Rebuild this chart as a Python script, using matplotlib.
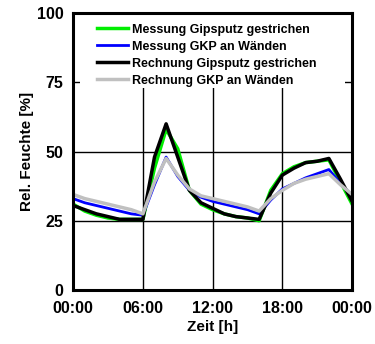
import matplotlib
matplotlib.use("Agg")
import matplotlib.pyplot as plt
from matplotlib.patches import Rectangle

plt.rcParams['font.family'] = ['Liberation Sans', 'DejaVu Sans']
plt.rcParams['font.weight'] = 'bold'

hours = list(range(0, 25))
# Messung Gipsputz gestrichen
mess_gips = [31, 28.5, 27, 26, 25.5, 25.5, 25.5, 44, 58, 51, 36, 31, 29, 27.5, 26.5, 26, 25,
             36, 42, 44.5, 46, 46.5, 47, 39, 31]
# Messung GKP an Waenden
mess_gkp = [33, 31.5, 30.5, 29.5, 28.5, 27.5, 27, 38, 48, 41, 36, 33.5, 32, 31, 30, 29, 27.5,
            32.5, 36.5, 38.5, 40.5, 42, 43.5, 38.5, 34]
# Rechnung Gipsputz gestrichen
rech_gips = [30.5, 29, 27.5, 26.5, 25.5, 25.5, 25.5, 48, 60, 48, 36, 31.5, 29.5, 27.5, 26.5, 26, 25.5,
             35, 41.5, 44, 46, 46.5, 47.5, 40, 32]
# Rechnung GKP an Waenden
rech_gkp = [34.5, 33, 32, 31, 30, 29, 27.5, 39, 47.5, 41.5, 36.5, 34, 33, 32, 31, 30, 28.5,
            33, 36, 38.5, 40, 41, 42, 38, 34.5]

labels = ["Messung Gipsputz gestrichen", "Messung GKP an Wänden",
          "Rechnung Gipsputz gestrichen", "Rechnung GKP an Wänden"]
xticks = [0, 6, 12, 18, 24]
xticklabels = ["00:00", "06:00", "12:00", "18:00", "00:00"]
yticks = [0, 25, 50, 75, 100]

fig = plt.figure(figsize=(3.75, 3.44), dpi=100)
ax = fig.add_axes([0.195, 0.157, 0.744, 0.805])

ax.plot(hours, mess_gips, color='#00ee00', lw=2.5, label=labels[0])
ax.plot(hours, mess_gkp, color='#0000ff', lw=2.0, label=labels[1])
ax.plot(hours, rech_gips, color='black', lw=2.5, label=labels[2])
ax.plot(hours, rech_gkp, color='#c0c0c0', lw=2.5, label=labels[3])

ax.set_xlim(0, 24)
ax.set_ylim(0, 100)
ax.set_xticks(xticks)
ax.set_xticklabels(xticklabels)
ax.set_yticks(yticks)
ax.grid(True, color='black', lw=1)
ax.set_axisbelow(True)
ax.tick_params(length=0, labelsize=11.5)
ax.tick_params(axis='x', pad=8)
ax.tick_params(axis='y', pad=7)
for s in ax.spines.values():
    s.set_linewidth(2.2)

ax.set_xlabel("Zeit [h]", fontsize=11, fontweight='bold', labelpad=3)
ax.set_ylabel("Rel. Feuchte [%]", fontsize=11, fontweight='bold', labelpad=2)

# white area behind the legend hides the grid there
ax.add_patch(Rectangle((0.025, 0.729), 0.95, 0.27, transform=ax.transAxes,
                       facecolor='white', edgecolor='none', zorder=1))

ax.legend(loc='upper left', bbox_to_anchor=(0.068, 0.98),
          fontsize=9, handlelength=2.5, handletextpad=0.3, labelspacing=0.4,
          borderpad=0.4, borderaxespad=0, frameon=False)

fig.savefig("out.png", dpi=100)
